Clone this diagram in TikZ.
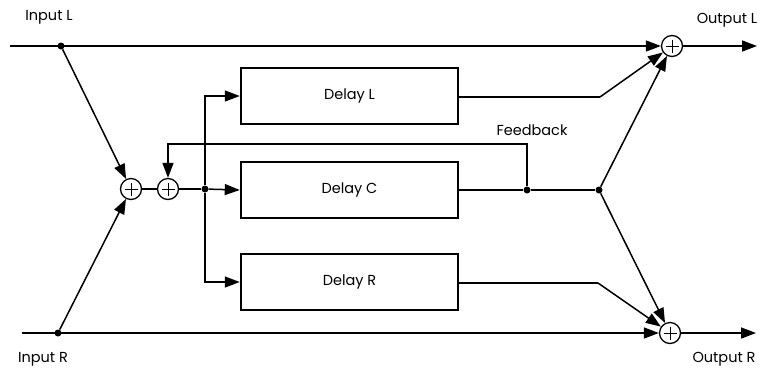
\documentclass[tikz,border=0pt]{standalone}
\usepackage{fontspec}
\setmainfont{Poppins}
\usetikzlibrary{arrows.meta,calc}
\begin{document}
\begin{tikzpicture}[x=1pt,y=-1pt,
  conn/.style={line width=1.5pt},
  arr/.style={conn,-{Triangle[length=15pt,width=11pt]}},
  box/.style={draw,line width=2.5pt,minimum width=217pt,minimum height=56pt,inner sep=0pt,font=\fontsize{14.5}{16}\selectfont},
  sum/.style={draw,circle,line width=1.3pt,minimum size=21pt,inner sep=0pt},
  dot/.style={circle,fill,inner sep=0pt,minimum size=7pt},
  lbl/.style={font=\fontsize{14.5}{16}\selectfont,inner sep=0pt}]
\useasboundingbox (0,0) rectangle (768,376);
% summing points
\node[sum] (sL) at (672,46) {};
\node[sum] (sR) at (670,333) {};
\node[sum] (s1) at (131,189) {};
\node[sum] (s2) at (168,189) {};
\foreach \s in {sL,sR,s1,s2}{
  \draw[line width=0.6pt] ([yshift=-6.5pt]\s.center) -- ([yshift=6.5pt]\s.center);
  \draw[line width=0.6pt] ([xshift=-6.5pt]\s.center) -- ([xshift=6.5pt]\s.center);
}
% delay boxes
\node[box] (dlyL) at (349.5,96) {Delay L};
\node[box] (dlyC) at (349.5,190) {Delay C};
\node[box] (dlyR) at (349.5,282) {Delay R};
% coordinates and dots
\coordinate (inL) at (10,46);
\coordinate (inR) at (22,333);
\node[dot] (dL) at (61,46) {};
\node[dot] (dR) at (58,333) {};
\coordinate (outL) at (757,46);
\coordinate (outR) at (756,333);
\node[dot] (j) at (205,189) {};
\node[dot] (fb) at (527,190) {};
\node[dot] (sp) at (599,190) {};
\coordinate (kL) at (600,97);
\coordinate (kR) at (598,283);
\coordinate (fbTop) at (527,144);
% labels
\node[lbl] (tInL) at (49,17) {Input L};
\node[lbl] (tInR) at (43,359) {Input R};
\node[lbl] (tOutL) at (727,20) {Output L};
\node[lbl] (tOutR) at (724,359) {Output R};
\node[lbl] (tFb) at (532,130) {Feedback};
% main lines
\draw[arr] (inL) -- (sL);
\draw[arr] (sL) -- (outL);
\draw[arr] (inR) -- (sR);
\draw[arr] (sR) -- (outR);
% to input sums
\draw[arr] (dL) -- (s1);
\draw[arr] (dR) -- (s1);
\draw[conn] (s1) -- (s2);
\draw[conn] (s2) -- (j);
% distribution
\draw[arr] (j) |- (dlyL.west);
\draw[arr] (j) -- (dlyC.west);
\draw[arr] (j) |- (dlyR.west);
% outputs of delays
\draw[conn] (dlyL.east |- kL) -- (kL);
\draw[arr] (kL) -- (sL);
\draw[conn] (dlyR.east |- kR) -- (kR);
\draw[arr] (kR) -- (sR);
\draw[conn] (dlyC.east |- fb) -- (fb) -- (sp);
\draw[arr] (sp) -- (sL);
\draw[arr] (sp) -- (sR);
% feedback
\draw[arr] (fb) -- (fbTop) -| (s2.north);
\end{tikzpicture}
\end{document}
